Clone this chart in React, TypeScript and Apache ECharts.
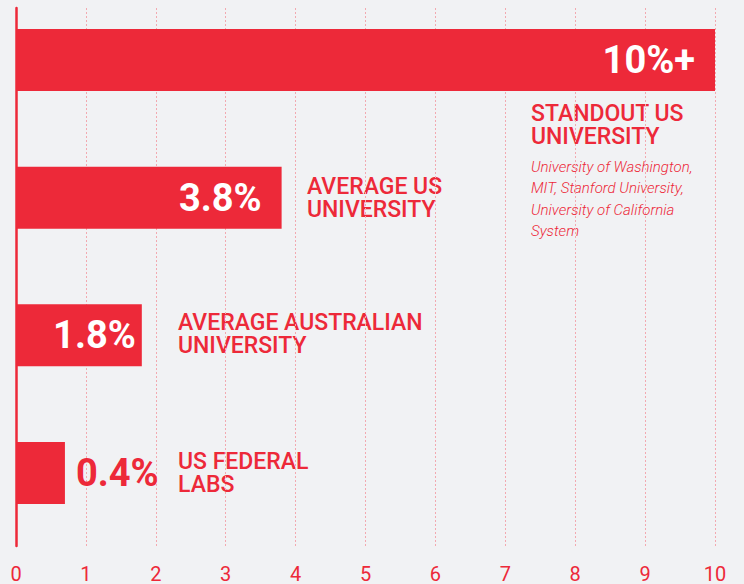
import React, { useEffect, useRef } from "react";
import * as echarts from "echarts";

const categories = ["Standout US University", "Average US University", "Average Australian University", "US Federal Labs"];
const barValues = [10, 3.8, 1.8, 0.7];
const valueLabels = ["10%+", "3.8%", "1.8%", "0.4%"];
const nameLabels = [
  "STANDOUT US\nUNIVERSITY",
  "AVERAGE US\nUNIVERSITY",
  "AVERAGE AUSTRALIAN\nUNIVERSITY",
  "US FEDERAL\nLABS",
];
const standoutNote = "University of Washington,\nMIT, Stanford University,\nUniversity of California\nSystem";
const xTicks = [0, 10, 1];

const RED = "#ed2939";
const BG = "#f1f2f4";
const FONT = "Roboto, 'Noto Sans', sans-serif";

export default function App() {
  const ref = useRef<HTMLDivElement>(null);
  useEffect(() => {
    if (!ref.current) return;
    const chart = echarts.init(ref.current, null, { renderer: "svg" });
    const labelCfg = [
      { position: "insideRight", distance: 20, color: "#fff" },
      { position: "insideRight", distance: 20, color: "#fff" },
      { position: "insideRight", distance: 6, color: "#fff" },
      { position: "right", distance: 11, color: RED },
    ];
    const namePos = [
      [531, 101.5],
      [307, 174.5],
      [178, 310.5],
      [178, 450],
    ];
    chart.setOption({
      animation: false,
      backgroundColor: BG,
      grid: [
        { left: 16, right: 29, top: 8, bottom: 26 },
        { left: 16, right: 29, top: 60, bottom: 111 },
      ],
      xAxis: [
        {
          gridIndex: 0,
          type: "value",
          min: xTicks[0],
          max: xTicks[1],
          interval: xTicks[2],
          axisLine: { show: false },
          axisTick: { show: false },
          splitLine: { show: true, lineStyle: { color: "#f2a9b0", type: [2, 2], width: 1 } },
          axisLabel: { color: RED, fontSize: 20, fontFamily: FONT, margin: 18, showMinLabel: true, showMaxLabel: true },
        },
        {
          gridIndex: 1,
          type: "value",
          min: xTicks[0],
          max: xTicks[1],
          show: false,
        },
      ],
      yAxis: [
        {
          gridIndex: 0,
          type: "value",
          min: 0,
          max: 1,
          axisLine: { show: true, lineStyle: { color: RED, width: 2.5 } },
          axisTick: { show: false },
          axisLabel: { show: false },
          splitLine: { show: false },
        },
        {
          gridIndex: 1,
          type: "category",
          data: categories,
          inverse: true,
          boundaryGap: false,
          show: false,
        },
      ],
      series: [
        {
          type: "bar",
          xAxisIndex: 1,
          yAxisIndex: 1,
          barWidth: 62,
          itemStyle: { color: RED },
          data: barValues.map((v, i) => ({
            value: v,
            label: {
              show: true,
              position: labelCfg[i].position,
              distance: labelCfg[i].distance,
              color: labelCfg[i].color,
              fontFamily: FONT,
              fontWeight: "bold",
              fontSize: 38,
              formatter: valueLabels[i],
            },
          })),
        },
      ],
      graphic: [
        ...nameLabels.map((t, i) => ({
          type: "text",
          x: namePos[i][0],
          y: namePos[i][1],
          style: {
            text: t,
            fill: RED,
            font: `500 23px ${FONT}`,
            lineHeight: 23,
            verticalAlign: "top",
          },
        })),
        {
          type: "text",
          x: 531,
          y: 156.5,
          style: {
            text: standoutNote,
            fill: RED,
            font: `italic 300 15px ${FONT}`,
            lineHeight: 21.3,
            verticalAlign: "top",
          },
        },
      ],
    });
    return () => chart.dispose();
  }, []);
  return (
    <div
      ref={ref}
      style={{ position: "absolute", left: 0, top: 0, width: 744, height: 584, background: BG }}
    />
  );
}
